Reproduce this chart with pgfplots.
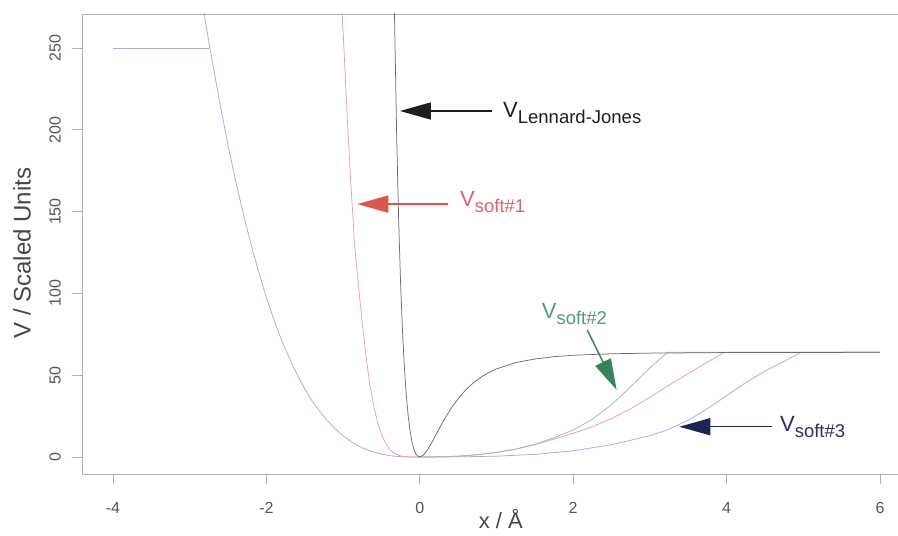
\documentclass[border=0pt]{standalone}
\usepackage{fontspec}
\setmainfont{Liberation Sans}
\usepackage{pgfplots}
\pgfplotsset{compat=1.18}
\usetikzlibrary{arrows.meta}
\definecolor{axisgrey}{RGB}{175,175,175}
\definecolor{ticktext}{RGB}{85,85,85}
\definecolor{labeltext}{RGB}{70,70,70}
\definecolor{ljcol}{RGB}{110,110,110}
\definecolor{softonecol}{RGB}{230,160,170}
\definecolor{softtwocol}{RGB}{165,180,172}
\definecolor{softthreecol}{RGB}{170,170,222}
\definecolor{ljtext}{RGB}{30,30,30}
\definecolor{softonearrow}{RGB}{222,85,75}
\definecolor{softonetext}{RGB}{212,100,118}
\definecolor{softtwoarrow}{RGB}{55,132,92}
\definecolor{softtwotext}{RGB}{85,152,122}
\definecolor{softthreearrow}{RGB}{30,35,85}
\definecolor{softthreetext}{RGB}{45,45,92}
\begin{document}
\begin{tikzpicture}
\useasboundingbox (0,0) rectangle (898pt,536pt);
\begin{axis}[
  at={(82pt,62pt)}, anchor=south west,
  scale only axis, width=818pt, height=460pt,
  xmin=-4.404, xmax=6.261, ymin=-10.39, ymax=270.8,
  xtick={-4,-2,0,2,4,6}, xticklabels={-4,-2,0,2,4,6},
  ytick={0,50,100,150,200,250},
  /pgf/number format/assume math mode=true,
  tick align=outside, tick pos=left,
  major tick length=10pt,
  axis line style={draw=axisgrey, line width=0.8pt},
  every tick/.style={draw=axisgrey, line width=0.8pt},
  tick label style={font=\fontsize{16}{16}\selectfont, text=ticktext, inner sep=0pt},
  yticklabel style={rotate=90, anchor=south},
  xticklabel style={anchor=north},
  xticklabel shift=18pt, yticklabel shift=11pt,
  xlabel={x / Å}, ylabel={V / Scaled Units},
  xlabel style={at={(axis description cs:0.512,-0.098)}, anchor=center, font=\fontsize{22}{22}\selectfont, text=labeltext},
  ylabel style={at={(axis description cs:-0.0733,0.48)}, anchor=center, rotate=0, font=\fontsize{24}{24}\selectfont, text=labeltext},
]
% cap line of soft #3
\addplot[softthreecol, line width=0.7pt] coordinates {(-4,250) (-2.747,250)};
% V soft#3
\addplot[softthreecol, line width=0.75pt] coordinates {
(-2.83,276.5) (-2.81,270.7) (-2.75,253.7) (-2.6,214.4) (-2.5,190.6) (-2.4,168.7) (-2.3,148.4) (-2.2,129.9)
(-2.1,113.0) (-2.0,97.6) (-1.9,83.7) (-1.8,71.2) (-1.7,60.3) (-1.6,50.5) (-1.5,41.8) (-1.4,34) (-1.3,27.6) (-1.2,22)
(-1.1,17.1) (-1.0,13) (-0.9,9.6) (-0.8,6.8) (-0.7,4.6)
(-0.6,3.0) (-0.5,1.8) (-0.4,0.9) (-0.3,0.35) (-0.2,0.1) (0,0)
(0.5,0.1) (1,0.5) (1.5,1.6) (2,3.8) (2.5,7.5) (3.0,13) (3.25,17) (3.5,22.5)
(3.75,29.5) (4.0,37.5) (4.25,45.5) (4.5,52.5) (4.75,58.5) (4.97,64) (6,64)};
% V soft#1
\addplot[softonecol, line width=0.75pt] coordinates {
(-1.03,293.8) (-1.01,270) (-0.95,212) (-0.90,168) (-0.85,130) (-0.80,105)
(-0.75,82) (-0.70,61) (-0.65,44) (-0.60,31) (-0.55,21) (-0.50,14) (-0.45,8.8)
(-0.40,5.0) (-0.35,2.8) (-0.30,1.5) (-0.25,0.7) (-0.20,0.25) (-0.10,0.02) (0,0)
(0.25,0.1) (0.5,0.5) (0.75,1.4) (1.0,2.8) (1.25,4.8) (1.5,7.5) (1.75,11) (2.0,14.5)
(2.25,18.5) (2.5,23.5) (2.75,29.5) (3.0,36.5) (3.25,44) (3.5,51) (3.75,58) (3.97,64) (6,64)};
% V soft#2
\addplot[softtwocol, line width=0.75pt] coordinates {
(0,0) (0.25,0.1) (0.5,0.5) (0.75,1.4) (1.0,2.8) (1.25,4.8) (1.5,7.8) (1.75,11.8)
(2.0,16.5) (2.25,23) (2.5,32) (2.75,43) (3.0,54.5) (3.23,64) (6,64)};
% V Lennard-Jones
\addplot[ljcol, line width=0.75pt] coordinates {
(-0.34,302.3) (-0.33,270.8) (-0.30,193.1) (-0.275,143.9) (-0.25,105.8) (-0.225,76.5)
(-0.2,54.1) (-0.175,37.2) (-0.15,24.6) (-0.125,15.4) (-0.1,8.9) (-0.075,4.54)
(-0.05,1.83) (-0.025,0.45) (0,0) (0.05,1.28) (0.1,4.33) (0.15,8.3) (0.2,12.66)
(0.3,21.36) (0.4,29.16) (0.5,35.7) (0.6,41.1) (0.7,45.4) (0.8,48.9) (0.9,51.6)
(1.0,53.85) (1.25,57.7) (1.5,59.9) (1.75,61.3) (2.0,62.2) (2.5,63.1) (3.0,63.5)
(4.0,63.84) (5.0,63.94) (6.0,63.97)};
% annotations
\draw[ljtext, line width=1.5pt, -{Triangle[length=31pt,width=17pt]}] (axis cs:0.937,211.5) -- (axis cs:-0.259,211.5);
\node[anchor=base west, inner sep=0pt, text=ljtext, font=\fontsize{22}{22}\selectfont] at (axis cs:1.085,207.8) {V\raisebox{-6pt}{\fontsize{18.5}{18.5}\selectfont Lennard-Jones}};
\draw[softonearrow, line width=1.5pt, -{Triangle[length=31pt,width=17pt]}] (axis cs:0.372,154.6) -- (axis cs:-0.815,154.6);
\node[anchor=base west, inner sep=0pt, text=softonetext, font=\fontsize{22}{22}\selectfont] at (axis cs:0.524,153) {V\raisebox{-6pt}{\fontsize{18.5}{18.5}\selectfont soft\#1}};
\draw[softtwoarrow, line width=1.5pt, -{Triangle[length=31pt,width=17pt]}] (axis cs:2.184,77.6) -- (axis cs:2.567,41.0);
\node[anchor=base west, inner sep=0pt, text=softtwotext, font=\fontsize{22}{22}\selectfont] at (axis cs:1.589,84.8) {V\raisebox{-6pt}{\fontsize{18.5}{18.5}\selectfont soft\#2}};
\draw[softthreearrow, line width=1.5pt, -{Triangle[length=31pt,width=17pt]}] (axis cs:4.588,18.5) -- (axis cs:3.383,18.5);
\node[anchor=base west, inner sep=0pt, text=softthreetext, font=\fontsize{22}{22}\selectfont] at (axis cs:4.695,15.5) {V\raisebox{-6pt}{\fontsize{18.5}{18.5}\selectfont soft\#3}};
\end{axis}
\end{tikzpicture}
\end{document}
